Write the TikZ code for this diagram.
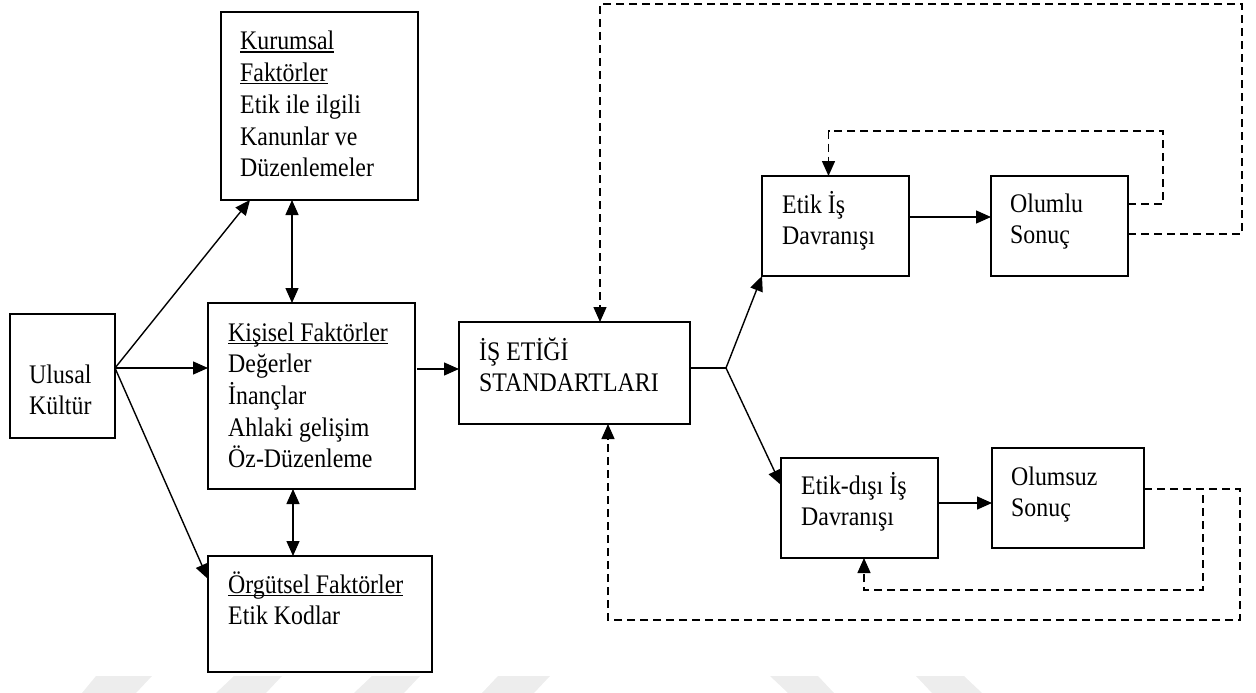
\documentclass[tikz,border=0pt]{standalone}
\usepackage{fontspec}
\setmainfont[FakeStretch=0.89]{Liberation Serif}
\usetikzlibrary{arrows.meta}

% underline drawn at a fixed depth below the baseline
\newcommand\ulbar[1]{\leavevmode\setbox0\hbox{#1}\rlap{\rule[-2.6pt]{\wd0}{1.1pt}}\box0}
% fixed word space
\newcommand\ws{\hspace{6pt}}

\tikzset{
  tip/.tip={Triangle[length=15pt,width=13pt]},
  box/.style={draw, line width=1.8pt, rectangle, inner sep=0pt, outer sep=0pt},
  txt/.style={anchor=base west, inner sep=0pt, text width=#1,
              font=\fontsize{26.8}{31.7}\selectfont},
  link/.style={line width=1.4pt, -tip},
  both/.style={line width=1.4pt, tip-tip},
  plain/.style={line width=1.4pt},
  fb/.style={line width=1.4pt, dash pattern=on 8pt off 5pt, -tip},
  wmark/.style={fill=black!7, draw=none}
}

\begin{document}
\begin{tikzpicture}[x=1pt, y=-1pt]
\useasboundingbox (0,0) rectangle (1256,693);

% faint background marks along the lower edge
\fill[wmark] (96,676) -- (152,676) -- (136,693) -- (82,693) -- cycle;
\fill[wmark] (234,676) -- (282,676) -- (266,693) -- (216,693) -- cycle;
\fill[wmark] (372,676) -- (420,676) -- (404,693) -- (354,693) -- cycle;
\fill[wmark] (498,676) -- (550,676) -- (534,693) -- (482,693) -- cycle;
\fill[wmark] (770,676) -- (818,676) -- (834,693) -- (788,693) -- cycle;
\fill[wmark] (916,676) -- (964,676) -- (982,693) -- (932,693) -- cycle;

% boxes
\node[box, minimum width=105pt, minimum height=124pt] (ulusal)   at (62.5,376) {};
\node[box, minimum width=197pt, minimum height=188pt] (kurumsal) at (319.5,106) {};
\node[box, minimum width=207pt, minimum height=186pt] (kisisel)  at (311.5,396) {};
\node[box, minimum width=224pt, minimum height=116pt] (orgutsel) at (320,614) {};
\node[box, minimum width=231pt, minimum height=102pt] (standart) at (574.5,373) {};
\node[box, minimum width=147pt, minimum height=100pt] (etikis)   at (835.5,226) {};
\node[box, minimum width=137pt, minimum height=100pt] (olumlu)   at (1059.5,226) {};
\node[box, minimum width=157pt, minimum height=100pt] (etikdisi) at (859.5,508) {};
\node[box, minimum width=152pt, minimum height=100pt] (olumsuz)  at (1068,498) {};

% box texts (one line per \\)
\node[txt=90pt]  (tulusal)   at (29,383)   {Ulusal\\Kültür};
\node[txt=175pt] (tkurumsal) at (240,50)   {\ulbar{Kurumsal}\\\ulbar{Faktörler}\\Etik\ws ile\ws ilgili\\Kanunlar\ws ve\\Düzenlemeler};
\node[txt=185pt] (tkisisel)  at (228,341)  {\ulbar{Kişisel\ws Faktörler}\\Değerler\\İnançlar\\Ahlaki\ws gelişim\\Öz-Düzenleme};
\node[txt=200pt] (torgutsel) at (228,593)  {\ulbar{Örgütsel\ws Faktörler}\\Etik\ws Kodlar};
\node[txt=205pt] (tstandart) at (479,360)  {İŞ\ws ETİĞİ\\STANDARTLARI};
\node[txt=125pt] (tetikis)   at (782,213)  {Etik\ws İş\\Davranışı};
\node[txt=115pt] (tolumlu)   at (1010,212) {Olumlu\\Sonuç};
\node[txt=135pt] (tetikdisi) at (801,494)  {Etik-dışı\ws İş\\Davranışı};
\node[txt=130pt] (tolumsuz)  at (1011,485) {Olumsuz\\Sonuç};

% turning points
\coordinate (hub)    at ([yshift=8pt]ulusal.east);
\coordinate (split)  at (726,368);
\coordinate (loopA)  at (1163,131);
\coordinate (loopB)  at (1242,4);
\coordinate (loopC)  at (1203,590);
\coordinate (loopD)  at (1240,620);
\coordinate (intoStd) at ([yshift=4pt]standart.west);

% solid connectors
\draw[link] (hub) -- ([xshift=29pt]kurumsal.south west);
\draw[link] (hub) -- (kisisel.west |- hub);
\draw[link] (hub) -- ([yshift=-23pt]orgutsel.north west);
\draw[both] ([xshift=84pt]kisisel.north west) -- ([xshift=84pt]kisisel.north west |- kurumsal.south);
\draw[both] ([xshift=85pt]kisisel.south west) -- ([xshift=85pt]kisisel.south west |- orgutsel.north);
\draw[link] ([xshift=2pt]kisisel.east |- intoStd) -- (intoStd);
\draw[plain] (standart.east |- split) -- (split);
\draw[link] (split) -- (etikis.south west);
\draw[link] (split) -- ([yshift=-27pt]etikdisi.north west);
\draw[link] ([yshift=9pt]etikis.east) -- ([yshift=9pt]olumlu.west);
\draw[link] ([yshift=5pt]etikdisi.east) -- ([yshift=5pt]etikdisi.east -| olumsuz.west);

% dashed feedback loops
\draw[fb] ([yshift=22pt]olumlu.east) -| (loopA) -| ([xshift=-7pt]etikis.north);
\draw[fb] ([yshift=-8pt]olumlu.east) -| (loopB) -| ([xshift=25.5pt]standart.north);
\draw[fb] ([yshift=9pt]olumsuz.east) -| (loopC) -| ([xshift=4.5pt]etikdisi.south);
\draw[fb] ([yshift=9pt]olumsuz.east) -| (loopD) -| ([xshift=33.5pt]standart.south);
\end{tikzpicture}
\end{document}
